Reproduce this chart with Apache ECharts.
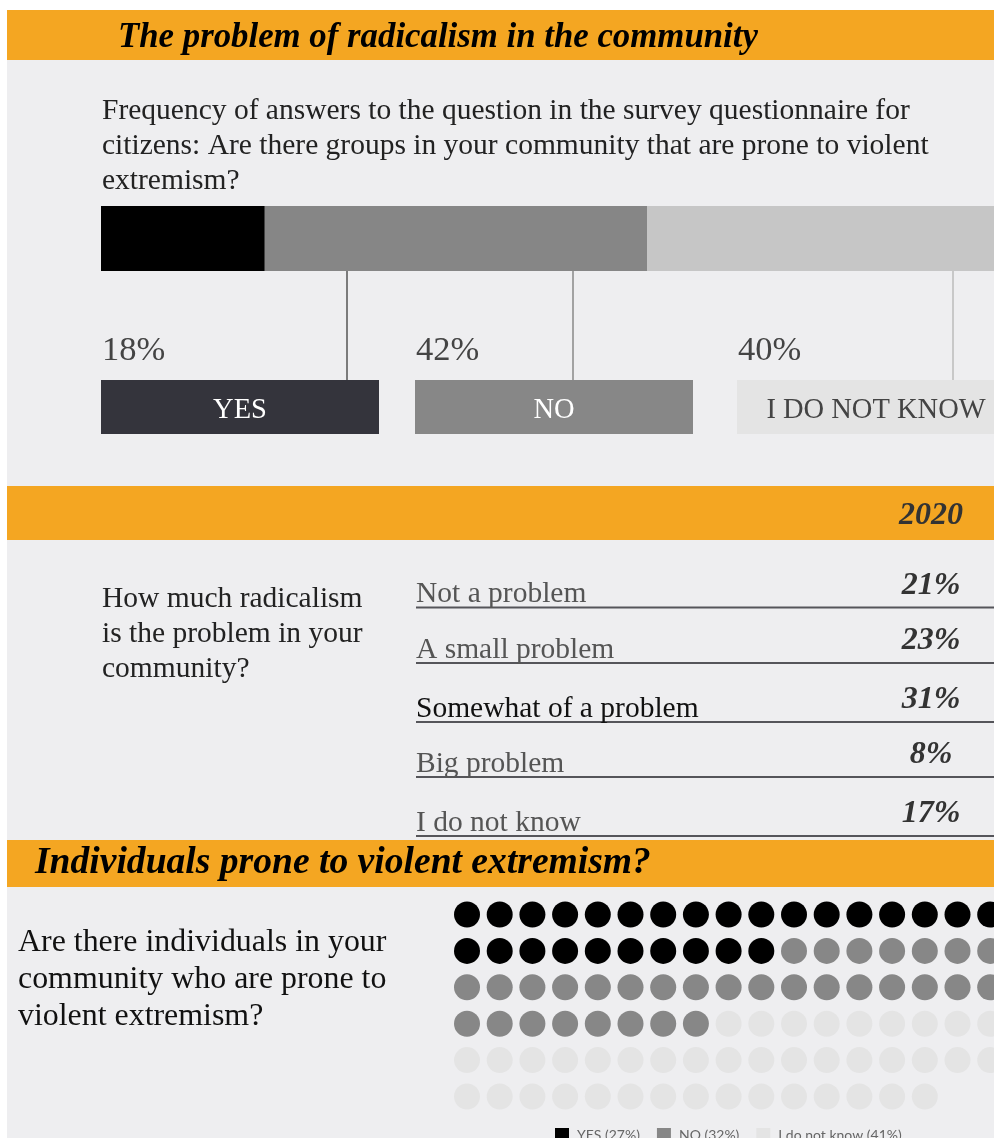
<!DOCTYPE html>
<html>
<head>
<meta charset="utf-8">
<script src="https://cdn.jsdelivr.net/npm/echarts@6/dist/echarts.min.js"></script>
<style>
  html, body { margin: 0; padding: 0; background: #ffffff; }
  #chart { width: 994px; height: 1138px; }
</style>
</head>
<body>
<div id="chart"></div>
<script>
// Survey: groups prone to violent extremism (shares of answers, %)
const groupAnswers = ['YES', 'NO', 'I DO NOT KNOW'];
const groupShares = [18, 42, 40];

// How much radicalism is a problem (2020)
const problemYear = '2020';
const problemLevels = ['Not a problem', 'A small problem', 'Somewhat of a problem', 'Big problem', 'I do not know'];
const problemShares = [21, 23, 31, 8, 17];

// Individuals prone to violent extremism: one dot per percent
const individualAnswers = ['YES', 'NO', 'I do not know'];
const individualShares = [27, 32, 41];
const dotsPerRow = 17;

const SERIF = '"Liberation Serif", "Times New Roman", serif';
const ORANGE = '#F4A622';
const PANEL = '#EEEEF0';
const barColors = ['#000000', '#868686', '#C6C6C6'];
const boxColors = ['#34343C', '#878787', '#E4E4E4'];
const boxTextColors = ['#ffffff', '#ffffff', '#444444'];
const dotColors = ['#000000', '#878787', '#E4E4E4'];

// text baseline correction for the serif face (middle alignment sits slightly high)
const DY = 3;

function txt(x, y, text, size, opts) {
  opts = opts || {};
  const align = opts.align || 'left';
  return {
    type: 'text', z: 10, silent: true,
    style: {
      x: x, y: y + DY, text: text,
      font: (opts.style || 'normal') + ' ' + (opts.weight || 'normal') + ' ' + size + 'px ' + (opts.family || SERIF),
      fill: opts.color || '#222222',
      align: align, verticalAlign: 'middle',
      textAlign: align, textVerticalAlign: 'middle'
    }
  };
}
function rect(x, y, w, h, color, z) {
  return { type: 'rect', z: z || 1, silent: true, shape: { x: x, y: y, width: w, height: h }, style: { fill: color } };
}
function line(x1, y1, x2, y2, color, w) {
  return { type: 'line', z: 5, silent: true, shape: { x1: x1, y1: y1, x2: x2, y2: y2 }, style: { stroke: color, lineWidth: w || 1.5 } };
}

const graphics = [];
// panels and section headers
graphics.push(rect(7, 60, 987, 1078, PANEL, 0));
graphics.push(rect(7, 10, 987, 50, ORANGE, 1));
graphics.push(rect(7, 486, 987, 54, ORANGE, 1));
graphics.push(rect(7, 840, 987, 47, ORANGE, 1));

graphics.push(txt(118, 35, 'The problem of radicalism in the community', 34.8, { style: 'italic', weight: 'bold', color: '#000' }));
['Frequency of answers to the question in the survey questionnaire for',
 'citizens: Are there groups in your community that are prone to violent',
 'extremism?'].forEach(function (s, i) { graphics.push(txt(102, 108 + i * 35, s, 29.5, { color: '#222' })); });

// answer boxes with shares and connector lines
const boxX = [101, 415, 737];
const connectorX = [347, 573, 953];
const connectorColors = ['#555555', '#888888', '#BBBBBB'];
groupAnswers.forEach(function (a, i) {
  graphics.push(line(connectorX[i], 271, connectorX[i], 380, connectorColors[i], 1.5));
  graphics.push(txt(boxX[i] + 1, 348, groupShares[i] + '%', 34.5, { color: '#444' }));
  graphics.push(rect(boxX[i], 380, 278, 54, boxColors[i], 2));
  graphics.push(txt(boxX[i] + 139, 408, a, 28.5, { align: 'center', color: boxTextColors[i] }));
});

// radicalism table
graphics.push(txt(963, 513, problemYear, 32, { align: 'right', style: 'italic', weight: 'bold', color: '#333' }));
['How much radicalism', 'is the problem in your', 'community?'].forEach(function (s, i) {
  graphics.push(txt(102, 596 + i * 35, s, 29.5, { color: '#222' }));
});
const rowLine = [607.5, 663, 722, 777, 836];
problemLevels.forEach(function (lvl, i) {
  graphics.push(line(416, rowLine[i], 994, rowLine[i], '#55555A', 2));
  graphics.push(txt(416, rowLine[i] - 16, lvl, 29.5, { color: i === 2 ? '#111' : '#555' }));
  graphics.push(txt(931, rowLine[i] - 25, problemShares[i] + '%', 32, { align: 'center', style: 'italic', weight: 'bold', color: '#333' }));
});

// individuals section
graphics.push(txt(35, 860, 'Individuals prone to violent extremism?', 37.6, { style: 'italic', weight: 'bold', color: '#000' }));
['Are there individuals in your', 'community who are prone to', 'violent extremism?'].forEach(function (s, i) {
  graphics.push(txt(18, 940 + i * 37, s, 31.9, { color: '#111' }));
});

// waffle dots: fill row by row in answer order
const dotSeries = individualAnswers.map(function (a, k) {
  return { name: a + ' (' + individualShares[k] + '%)', type: 'scatter', xAxisIndex: 1, yAxisIndex: 1,
    symbol: 'circle', symbolSize: 26, clip: false,
    itemStyle: { color: dotColors[k], opacity: 1 }, data: [], z: 3 };
});
let idx = 0;
individualShares.forEach(function (n, k) {
  for (let j = 0; j < n; j++, idx++) {
    dotSeries[k].data.push([idx % dotsPerRow, Math.floor(idx / dotsPerRow)]);
  }
});
const dotRows = Math.ceil(idx / dotsPerRow);

const barSeries = groupAnswers.map(function (a, i) {
  return { name: a, type: 'bar', stack: 'all', xAxisIndex: 0, yAxisIndex: 0, barWidth: '100%',
    itemStyle: { color: barColors[i] }, data: [groupShares[i]], z: 3, legendHoverLink: false };
});

const chart = echarts.init(document.getElementById('chart'), null, { renderer: 'canvas' });
chart.setOption({
  animation: false,
  backgroundColor: '#ffffff',
  grid: [
    { left: 101, top: 206, width: 910, height: 65, outerBoundsMode: 'none', containLabel: false },
    { left: 467, top: 914.5, width: 32.7 * (dotsPerRow - 1), height: 36.4 * (dotRows - 1), outerBoundsMode: 'none' }
  ],
  xAxis: [
    { gridIndex: 0, type: 'value', min: 0, max: 100, show: false },
    { gridIndex: 1, type: 'value', min: 0, max: dotsPerRow - 1, show: false }
  ],
  yAxis: [
    { gridIndex: 0, type: 'category', data: ['share'], show: false },
    { gridIndex: 1, type: 'value', min: 0, max: dotRows - 1, inverse: true, show: false }
  ],
  legend: {
    data: dotSeries.map(function (s) { return s.name; }),
    left: 555, top: 1128, padding: 0,
    icon: 'rect', itemWidth: 14, itemHeight: 14, itemGap: 17,
    itemStyle: { opacity: 1 },
    textStyle: { fontFamily: 'Lato', fontSize: 14, color: '#666666', padding: [0, 0, 0, 3] },
    selectedMode: false
  },
  graphic: graphics,
  series: barSeries.concat(dotSeries)
});
</script>
</body>
</html>
